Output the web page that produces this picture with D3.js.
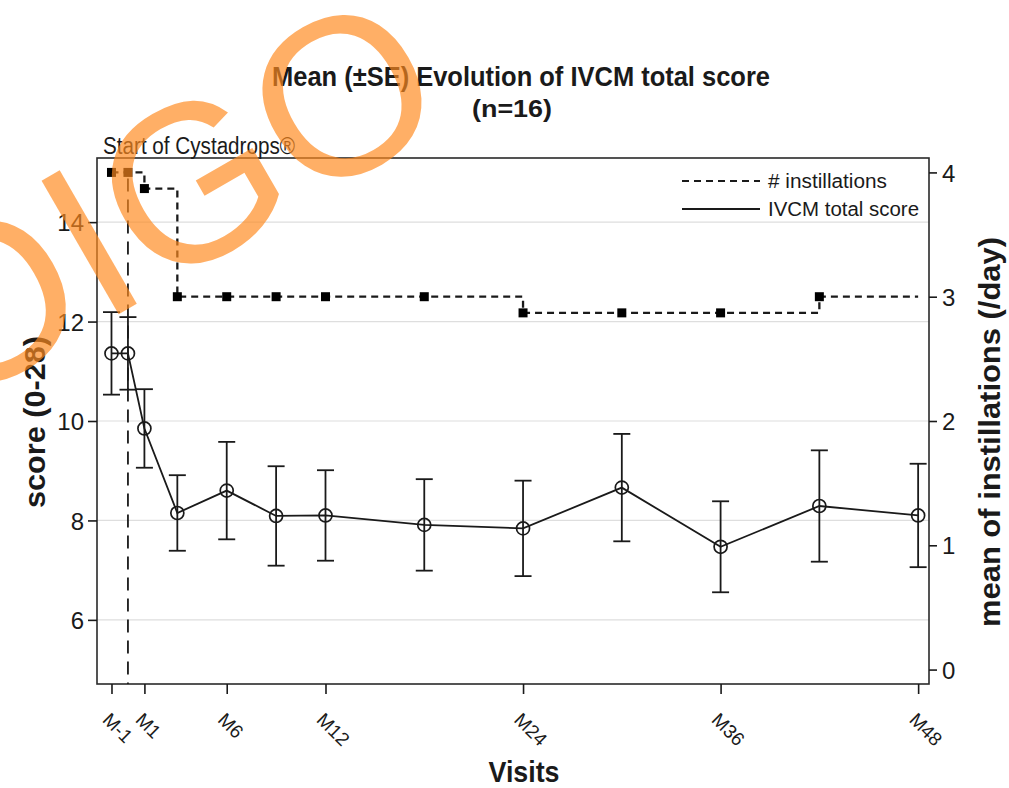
<!DOCTYPE html>
<html>
<head>
<meta charset="utf-8">
<script src="https://cdn.jsdelivr.net/npm/d3@7"></script>
<style>
  html, body { margin: 0; padding: 0; background: #fff; }
  svg { display: block; font-family: "Liberation Sans", Arial, Helvetica, sans-serif; }
</style>
</head>
<body>
<svg id="chart" width="1009" height="788"></svg>
<script>
// ---------------- data ----------------
const months = [-1, 0, 1, 3, 6, 9, 12, 18, 24, 30, 36, 42, 48];
const scoreMean = [11.36, 11.36, 9.85, 8.15, 8.60, 8.09, 8.10, 7.91, 7.84, 8.66, 7.47, 8.29, 8.10];
const scoreSE = [0.83, 0.73, 0.79, 0.76, 0.98, 1.00, 0.91, 0.92, 0.96, 1.08, 0.915, 1.12, 1.04];
const instMean = [4, 4, 3.87, 3, 3, 3, 3, 3, 2.87, 2.87, 2.87, 3, 3];
const instMarkerShown = [1, 1, 1, 1, 1, 1, 1, 1, 1, 1, 1, 1, 0];
const tickMonths = [-1, 1, 6, 12, 24, 36, 48];
const tickLabels = ["M-1", "M1", "M6", "M12", "M24", "M36", "M48"];
const leftTicks = [6, 8, 10, 12, 14];
const rightTicks = [0, 1, 2, 3, 4];
const legendLabels = ["# instillations", "IVCM total score"];
const startMonth = 0;
const titleText = "Mean (\u00B1SE) Evolution of IVCM total score";
const subtitleText = "(n=16)";
const startText = "Start of Cystadrops\u00AE";
const xTitle = "Visits";
const yLeftTitle = "score (0-28)";
const yRightTitle = "mean of instillations (/day)";
const watermarkText = "OIGO";

// ---------------- layout ----------------
const svg = d3.select("#chart");
const P = { left: 97, right: 929, top: 158, bottom: 684 };
const ink = "#1a1a1a";

const x = d3.scaleLinear().domain([-1.88, 48.66]).range([P.left, P.right]);
const yL = d3.scaleLinear().domain([4.71, 15.29]).range([P.bottom, P.top]);
const yR = d3.scaleLinear().domain([(4.71 - 5) / 2.5, (15.29 - 5) / 2.5]).range([P.bottom, P.top]);

// gridlines
svg.append("g").selectAll("line").data(leftTicks).join("line")
  .attr("x1", P.left).attr("x2", P.right)
  .attr("y1", d => yL(d)).attr("y2", d => yL(d))
  .attr("stroke", "#dedede").attr("stroke-width", 1.2);

// frame
svg.append("rect")
  .attr("x", P.left).attr("y", P.top)
  .attr("width", P.right - P.left).attr("height", P.bottom - P.top)
  .attr("fill", "none").attr("stroke", "#2a2a2a").attr("stroke-width", 1.6);

// start line
svg.append("line")
  .attr("x1", x(startMonth)).attr("x2", x(startMonth))
  .attr("y1", yR(4) + 6).attr("y2", P.bottom)
  .attr("stroke", ink).attr("stroke-width", 1.8)
  .attr("stroke-dasharray", "13,8");

// installations step line
const inst = months.map((m, i) => ({ m, v: instMean[i], show: instMarkerShown[i] }));
svg.append("path").datum(inst)
  .attr("d", d3.line().x(d => x(d.m)).y(d => yR(d.v)).curve(d3.curveStepAfter))
  .attr("fill", "none").attr("stroke", ink).attr("stroke-width", 2.3)
  .attr("stroke-dasharray", "7,5");
svg.append("g").selectAll("rect").data(inst.filter(d => d.show)).join("rect")
  .attr("x", d => x(d.m) - 4.5).attr("y", d => yR(d.v) - 4.5)
  .attr("width", 9).attr("height", 9).attr("fill", "#000");

// score error bars
const score = months.map((m, i) => ({ m, v: scoreMean[i], se: scoreSE[i] }));
const eb = svg.append("g").attr("stroke", ink).attr("stroke-width", 1.8);
eb.selectAll("line.v").data(score).join("line").attr("class", "v")
  .attr("x1", d => x(d.m)).attr("x2", d => x(d.m))
  .attr("y1", d => yL(d.v + d.se)).attr("y2", d => yL(d.v - d.se));
eb.selectAll("line.u").data(score).join("line").attr("class", "u")
  .attr("x1", d => x(d.m) - 8.5).attr("x2", d => x(d.m) + 8.5)
  .attr("y1", d => yL(d.v + d.se)).attr("y2", d => yL(d.v + d.se));
eb.selectAll("line.l").data(score).join("line").attr("class", "l")
  .attr("x1", d => x(d.m) - 8.5).attr("x2", d => x(d.m) + 8.5)
  .attr("y1", d => yL(d.v - d.se)).attr("y2", d => yL(d.v - d.se));

// score line
svg.append("path").datum(score)
  .attr("d", d3.line().x(d => x(d.m)).y(d => yL(d.v)))
  .attr("fill", "none").attr("stroke", ink).attr("stroke-width", 1.8);
svg.append("g").selectAll("circle").data(score).join("circle")
  .attr("cx", d => x(d.m)).attr("cy", d => yL(d.v)).attr("r", 6.5)
  .attr("fill", "none").attr("stroke", ink).attr("stroke-width", 1.7);

// legend
const lg = svg.append("g");
lg.append("line").attr("x1", 682).attr("x2", 760).attr("y1", 181).attr("y2", 181)
  .attr("stroke", ink).attr("stroke-width", 2.2).attr("stroke-dasharray", "7,5");
lg.append("line").attr("x1", 682).attr("x2", 760).attr("y1", 209).attr("y2", 209)
  .attr("stroke", ink).attr("stroke-width", 1.8);
lg.selectAll("text").data(legendLabels).join("text")
  .attr("x", 768).attr("y", (d, i) => 188 + i * 28)
  .attr("font-size", 20).attr("fill", ink)
  .attr("textLength", (d, i) => [119, 151][i]).attr("lengthAdjust", "spacingAndGlyphs")
  .text(d => d);

// axes
function styleAxis(g) {
  g.select(".domain").remove();
  g.selectAll(".tick line").attr("stroke", ink).attr("stroke-width", 1.6);
  g.selectAll(".tick text").attr("fill", ink).attr("font-family", "Liberation Sans, Arial, sans-serif");
}
svg.append("g").attr("transform", `translate(${P.left},0)`)
  .call(d3.axisLeft(yL).tickValues(leftTicks).tickFormat(d3.format("d")).tickSize(9).tickPadding(4))
  .call(styleAxis)
  .call(g => g.selectAll(".tick text").attr("font-size", 24).attr("dy", "0.36em"));

svg.append("g").attr("transform", `translate(${P.right},0)`)
  .call(d3.axisRight(yR).tickValues(rightTicks).tickFormat(d3.format("d")).tickSize(8).tickPadding(5))
  .call(styleAxis)
  .call(g => g.selectAll(".tick text").attr("font-size", 24).attr("dy", "0.36em"));

svg.append("g").attr("transform", `translate(0,${P.bottom})`)
  .call(d3.axisBottom(x).tickValues(tickMonths).tickSize(10).tickFormat((d, i) => tickLabels[i]))
  .call(styleAxis)
  .call(g => g.selectAll(".tick text")
    .attr("font-size", 19).attr("y", 0).attr("dy", 0)
    .attr("text-anchor", "start")
    .attr("transform", "translate(-10.5,37) rotate(45)"));

// titles
svg.append("text").attr("x", 521).attr("y", 86).attr("text-anchor", "middle")
  .attr("font-size", 28).attr("font-weight", "bold").attr("fill", ink)
  .attr("textLength", 498).attr("lengthAdjust", "spacingAndGlyphs").text(titleText);
svg.append("text").attr("x", 512).attr("y", 117).attr("text-anchor", "middle")
  .attr("font-size", 23).attr("font-weight", "bold").attr("fill", ink)
  .attr("textLength", 80).attr("lengthAdjust", "spacingAndGlyphs").text(subtitleText);
svg.append("text").attr("x", 103).attr("y", 154)
  .attr("font-size", 23).attr("fill", ink)
  .attr("textLength", 192).attr("lengthAdjust", "spacingAndGlyphs").text(startText);
svg.append("text").attr("x", 524).attr("y", 782).attr("text-anchor", "middle")
  .attr("font-size", 29).attr("font-weight", "bold").attr("fill", ink)
  .attr("textLength", 71).attr("lengthAdjust", "spacingAndGlyphs").text(xTitle);
svg.append("text").attr("transform", "translate(45,422) rotate(-90)").attr("text-anchor", "middle")
  .attr("font-size", 30).attr("font-weight", "bold").attr("fill", ink)
  .attr("textLength", 172).attr("lengthAdjust", "spacingAndGlyphs").text(yLeftTitle);
svg.append("text").attr("transform", "translate(1000,432) rotate(-90)").attr("text-anchor", "middle")
  .attr("font-size", 30).attr("font-weight", "bold").attr("fill", ink)
  .attr("textLength", 390).attr("lengthAdjust", "spacingAndGlyphs").text(yRightTitle);

// watermark overlay (part of the reference picture)
svg.append("text").attr("transform", "translate(163,196) rotate(-30)")
  .attr("text-anchor", "middle").attr("dy", "0.358em")
  .attr("font-size", 224).attr("fill", "#ff8a1f").attr("opacity", 0.68)
  .attr("pointer-events", "none").text(watermarkText);
</script>
</body>
</html>
